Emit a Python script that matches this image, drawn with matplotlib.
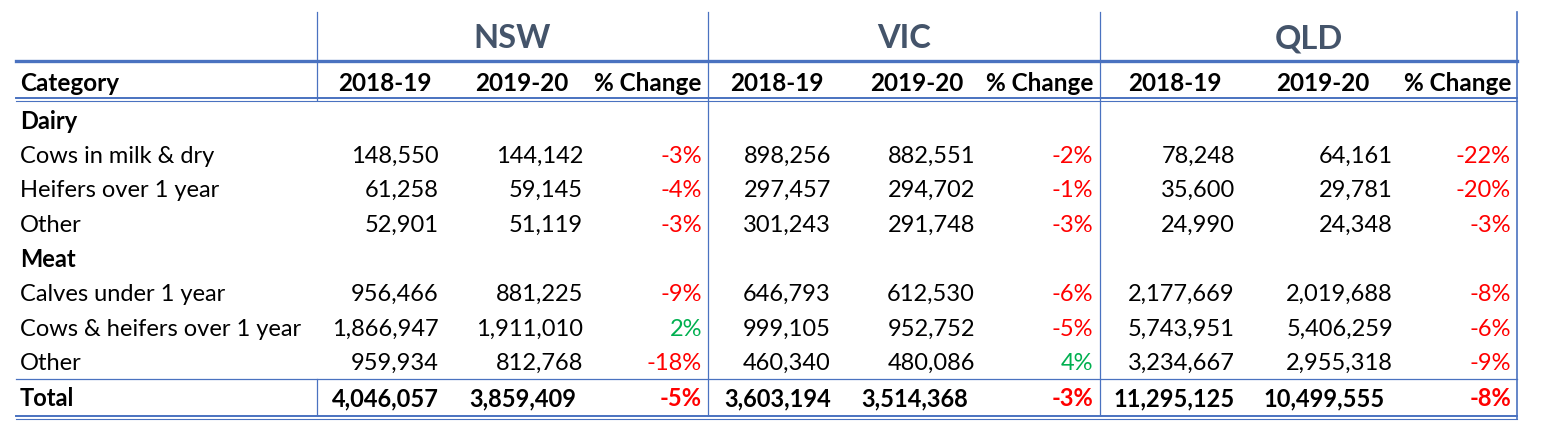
import matplotlib.pyplot as plt

# table data
states = ["NSW", "VIC", "QLD"]
col_heads = ["2018-19", "2019-20", "% Change"]
row_labels = ["Dairy", "Cows in milk & dry", "Heifers over 1 year", "Other",
              "Meat", "Calves under 1 year", "Cows & heifers over 1 year", "Other"]
is_group = [True, False, False, False, True, False, False, False]

nsw_1819 = [None, 148550, 61258, 52901, None, 956466, 1866947, 959934]
nsw_1920 = [None, 144142, 59145, 51119, None, 881225, 1911010, 812768]
nsw_pct = [None, -3, -4, -3, None, -9, 2, -18]
vic_1819 = [None, 898256, 297457, 301243, None, 646793, 999105, 460340]
vic_1920 = [None, 882551, 294702, 291748, None, 612530, 952752, 480086]
vic_pct = [None, -2, -1, -3, None, -6, -5, 4]
qld_1819 = [None, 78248, 35600, 24990, None, 2177669, 5743951, 3234667]
qld_1920 = [None, 64161, 29781, 24348, None, 2019688, 5406259, 2955318]
qld_pct = [None, -22, -20, -3, None, -8, -6, -9]

total_1819 = [4046057, 3603194, 11295125]
total_1920 = [3859409, 3514368, 10499555]
total_pct = [-5, -3, -8]

blue = "#4A72C0"
red = "#FF0000"
green = "#00B050"
head_col = "#44546A"
font = "Lato"
fs = 17
fs_head = 17.5

fig = plt.figure(figsize=(15.41, 4.34), dpi=100)
ax = fig.add_axes([0, 0, 1, 1])
ax.set_xlim(0, 1541)
ax.set_ylim(434, 0)
ax.axis("off")

# layout (pixels)
group_left = [317, 708, 1100]
group_right = [708, 1100, 1517]
num_right = [[439, 583, 702], [831, 975, 1093], [1235, 1393, 1511]]
tot_right = [[439, 576, 702], [831, 968, 1093], [1235, 1385, 1511]]
head_x = [[385, 522, 648], [777, 917, 1040], [1175, 1323, 1458]]
y_state = 39
y_head = 83.5
y_rows = [121.5 + i * 34.6 for i in range(len(row_labels))]
y_total = 398.5

# lines
ax.plot([16, 1517], [61, 61], color=blue, lw=2.4)
ax.plot([16, 1517], [97.5, 97.5], color=blue, lw=1.4)
ax.plot([16, 1517], [100.5, 100.5], color=blue, lw=0.8)
ax.plot([16, 1517], [379, 379], color=blue, lw=0.9)
ax.plot([16, 1517], [415.5, 415.5], color=blue, lw=1.4)
ax.plot([16, 1517], [418.5, 418.5], color=blue, lw=0.8)
ax.plot([317, 317], [12, 100], color=blue, lw=0.9)
ax.plot([317, 317], [379, 415], color=blue, lw=0.9)
for xv in [708, 1100]:
    ax.plot([xv, xv], [12, 415], color=blue, lw=0.9)
ax.plot([1517, 1517], [12, 419], color=blue, lw=1.2)

# state headers
for i, s in enumerate(states):
    ax.text((group_left[i] + group_right[i]) / 2, y_state, s, ha="center", va="center",
            fontsize=23.5, fontweight="bold", color=head_col, family=font)

# column headers
ax.text(20, y_head, "Category", ha="left", va="center", fontsize=fs_head, fontweight="bold", family=font)
for i in range(3):
    for j, h in enumerate(col_heads):
        ax.text(head_x[i][j], y_head, h, ha="center", va="center", fontsize=fs_head,
                fontweight="bold", family=font)


def pct_color(v):
    return green if v > 0 else red


# body rows
cols = [(nsw_1819, nsw_1920, nsw_pct), (vic_1819, vic_1920, vic_pct), (qld_1819, qld_1920, qld_pct)]
for r, lab in enumerate(row_labels):
    y = y_rows[r]
    ax.text(20, y, lab, ha="left", va="center", fontsize=fs,
            fontweight="bold" if is_group[r] else "normal", family=font)
    if is_group[r]:
        continue
    for i, (a, b, p) in enumerate(cols):
        ax.text(num_right[i][0], y, f"{a[r]:,}", ha="right", va="center", fontsize=fs, family=font)
        ax.text(num_right[i][1], y, f"{b[r]:,}", ha="right", va="center", fontsize=fs, family=font)
        ax.text(num_right[i][2], y, f"{p[r]}%", ha="right", va="center", fontsize=fs,
                color=pct_color(p[r]), family=font)

# total row
ax.text(20, y_total, "Total", ha="left", va="center", fontsize=fs, fontweight="bold", family=font)
for i in range(3):
    ax.text(tot_right[i][0], y_total, f"{total_1819[i]:,}", ha="right", va="center",
            fontsize=fs, fontweight="bold", family=font)
    ax.text(tot_right[i][1], y_total, f"{total_1920[i]:,}", ha="right", va="center",
            fontsize=fs, fontweight="bold", family=font)
    ax.text(tot_right[i][2], y_total, f"{total_pct[i]}%", ha="right", va="center",
            fontsize=fs, fontweight="bold", color=pct_color(total_pct[i]), family=font)

fig.savefig("out.png", dpi=100)
